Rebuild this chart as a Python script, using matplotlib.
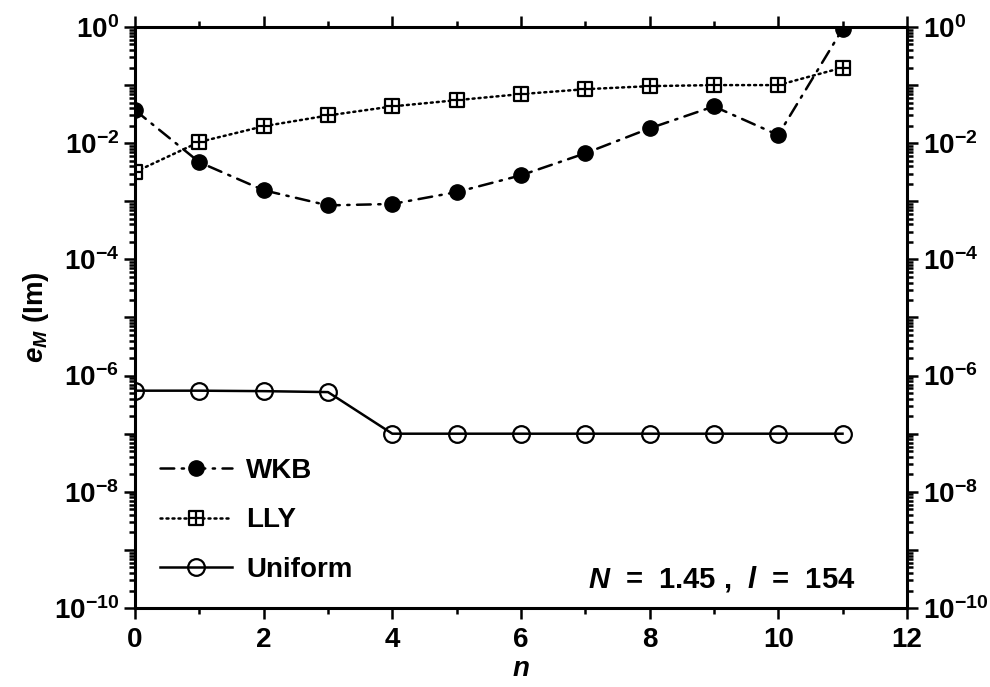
import numpy as np
import matplotlib
matplotlib.use("Agg")
import matplotlib.pyplot as plt
from matplotlib.path import Path
from matplotlib.ticker import LogLocator, FuncFormatter, MultipleLocator

plt.rcParams['font.family'] = ['Liberation Sans', 'DejaVu Sans']
plt.rcParams['font.weight'] = 'bold'
plt.rcParams['mathtext.fontset'] = 'custom'
plt.rcParams['mathtext.rm'] = 'Liberation Sans:bold'
plt.rcParams['mathtext.it'] = 'Liberation Sans:italic:bold'
plt.rcParams['mathtext.bf'] = 'Liberation Sans:bold'

# values
n = np.arange(12)
wkb = [3.7e-2, 4.7e-3, 1.55e-3, 8.5e-4, 9.0e-4, 1.44e-3,
       2.8e-3, 6.7e-3, 1.8e-2, 4.3e-2, 1.38e-2, 0.92]
lly = [3.2e-3, 1.05e-2, 1.96e-2, 3.0e-2, 4.3e-2, 5.5e-2,
       7.0e-2, 8.5e-2, 9.6e-2, 1.0e-1, 1.0e-1, 2.0e-1]
uniform = [5.5e-7, 5.5e-7, 5.4e-7, 5.2e-7, 1e-7, 1e-7,
           1e-7, 1e-7, 1e-7, 1e-7, 1e-7, 1e-7]

# square with a cross inside, like the LLY marker
box_plus = Path(
    [(-1, -1), (1, -1), (1, 1), (-1, 1), (-1, -1),
     (0, -1), (0, 1), (-1, 0), (1, 0)],
    [Path.MOVETO, Path.LINETO, Path.LINETO, Path.LINETO, Path.CLOSEPOLY,
     Path.MOVETO, Path.LINETO, Path.MOVETO, Path.LINETO])

fig = plt.figure(figsize=(9.9, 6.87), dpi=100)
ax = fig.add_axes([0.1364, 0.115, 0.7796, 0.8457])

lw = 1.8
ax.plot(n, wkb, color='black', lw=lw, dashes=(5.5, 3, 0.9, 3),
        dash_capstyle='round', marker='o', ms=11, mfc='black', mec='black',
        label='WKB')
ax.plot(n, lly, color='black', lw=lw, dashes=(0.8, 1.6), dash_capstyle='round',
        marker=box_plus, ms=10, mfc='white', mec='black', mew=1.6,
        label='LLY')
ax.plot(n, uniform, color='black', lw=lw, marker='o', ms=12, mfc='none',
        mec='black', mew=1.6, label='Uniform')

ax.set_yscale('log')
ax.set_xlim(0, 12)
ax.set_ylim(1e-10, 1e0)

ax.xaxis.set_major_locator(MultipleLocator(2))
ax.xaxis.set_minor_locator(MultipleLocator(1))
ax.yaxis.set_major_locator(LogLocator(base=10, numticks=30))
ax.yaxis.set_minor_locator(LogLocator(base=10, subs=np.arange(2, 10), numticks=300))


def exp_label(v, pos):
    e = int(round(np.log10(v)))
    if e % 2:
        return ''
    return r'$10^{%d}$' % e


ax.yaxis.set_major_formatter(FuncFormatter(exp_label))
ax.yaxis.set_minor_formatter(FuncFormatter(lambda v, p: ''))

ax.tick_params(which='both', direction='out', top=True, right=True,
               labelright=True, width=1.8, labelsize=20)
ax.tick_params(which='major', length=8)
ax.tick_params(which='minor', length=4)
ax.tick_params(axis='x', pad=6)
for s in ax.spines.values():
    s.set_linewidth(2.2)

ax.set_xlabel(r'$\mathit{n}$', fontsize=20, labelpad=2)
ax.set_ylabel(r'$\mathit{e}_{\mathit{M}}$ (Im)', fontsize=20, fontweight='bold',
              labelpad=2)

ax.legend(loc='lower left', bbox_to_anchor=(0.0, 0.0), frameon=False,
          fontsize=20, handlelength=2.6, labelspacing=0.85, handletextpad=0.5,
          borderaxespad=0.5)

ax.text(0.933, 0.05, r'$\mathit{N}$  =  1.45 ,  $\mathit{l}$  =  154',
        transform=ax.transAxes, ha='right', va='center', fontsize=21,
        fontweight='bold')

fig.savefig('out.png', dpi=100)
